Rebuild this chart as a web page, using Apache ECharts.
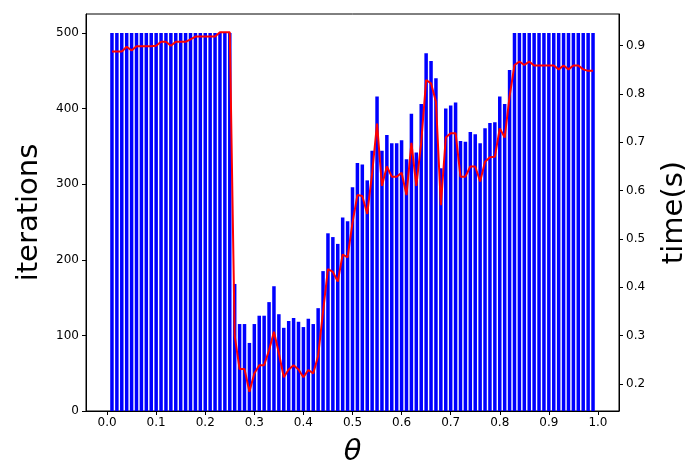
<!DOCTYPE html>
<html>
<head>
<meta charset="utf-8">
<script src="https://cdn.jsdelivr.net/npm/echarts@6/dist/echarts.min.js"></script>
<style>
html,body{margin:0;padding:0;background:#fff;}
#chart{width:685px;height:464px;}
</style>
</head>
<body>
<div id="chart"></div>
<script>
const theta = [0.01,0.02,0.03,0.04,0.05,0.06,0.07,0.08,0.09,0.10,
0.11,0.12,0.13,0.14,0.15,0.16,0.17,0.18,0.19,0.20,
0.21,0.22,0.23,0.24,0.25,0.26,0.27,0.28,0.29,0.30,
0.31,0.32,0.33,0.34,0.35,0.36,0.37,0.38,0.39,0.40,
0.41,0.42,0.43,0.44,0.45,0.46,0.47,0.48,0.49,0.50,
0.51,0.52,0.53,0.54,0.55,0.56,0.57,0.58,0.59,0.60,
0.61,0.62,0.63,0.64,0.65,0.66,0.67,0.68,0.69,0.70,
0.71,0.72,0.73,0.74,0.75,0.76,0.77,0.78,0.79,0.80,
0.81,0.82,0.83,0.84,0.85,0.86,0.87,0.88,0.89,0.90,
0.91,0.92,0.93,0.94,0.95,0.96,0.97,0.98,0.99];

const iterations = [500,500,500,500,500,500,500,500,500,500,
500,500,500,500,500,500,500,500,500,500,
500,500,500,500,500,168,115,115,90,115,
126,126,144,165,128,110,119,123,118,111,
122,115,136,185,235,230,221,256,251,296,
328,326,305,344,416,344,365,354,354,358,
333,393,342,406,473,463,440,321,400,404,
408,357,356,369,366,354,374,381,382,416,
406,451,500,500,500,500,500,500,500,500,
500,500,500,500,500,500,500,500,500];

const timeSec = [0.888,0.888,0.888,0.898,0.890,0.899,0.899,0.899,0.899,0.900,
0.908,0.908,0.900,0.908,0.908,0.908,0.913,0.919,0.919,0.919,
0.919,0.919,0.928,0.928,0.928,0.300,0.231,0.231,0.184,0.222,
0.239,0.239,0.270,0.308,0.264,0.214,0.230,0.239,0.230,0.214,
0.229,0.222,0.258,0.350,0.438,0.432,0.412,0.468,0.462,0.534,
0.591,0.589,0.552,0.636,0.739,0.610,0.650,0.629,0.629,0.637,
0.591,0.699,0.610,0.700,0.829,0.822,0.784,0.570,0.710,0.719,
0.719,0.629,0.629,0.650,0.650,0.619,0.660,0.669,0.670,0.729,
0.710,0.795,0.860,0.867,0.860,0.867,0.859,0.859,0.859,0.859,
0.859,0.851,0.859,0.851,0.859,0.859,0.851,0.848,0.848];

const xTicks = [0.0,0.1,0.2,0.3,0.4,0.5,0.6,0.7,0.8,0.9,1.0];
const leftTicks = [0,100,200,300,400,500];
const rightTicks = [0.2,0.3,0.4,0.5,0.6,0.7,0.8,0.9];

const FONT = 'DejaVu Sans';
const chart = echarts.init(document.getElementById('chart'), null, {renderer:'canvas'});

const tickStyle = {show:true, inside:false, length:4, lineStyle:{color:'#000', width:1}};
const labelBase = {color:'#000', fontFamily:FONT, fontSize:12};

chart.setOption({
  animation:false,
  backgroundColor:'#fff',
  grid:{left:86, right:66, top:14, bottom:53, containLabel:false, outerBoundsMode:'none',
        show:true, borderColor:'#000', borderWidth:1, backgroundColor:'transparent'},
  xAxis:{
    type:'value', min:-0.0429, max:1.0429,
    name:'θ', nameLocation:'middle', nameGap:27,
    nameTextStyle:{fontFamily:FONT, fontStyle:'italic', fontSize:29, color:'#000'},
    axisLine:{show:true, onZero:false, lineStyle:{color:'#000', width:1}},
    axisTick:Object.assign({customValues:xTicks}, tickStyle),
    axisLabel:Object.assign({customValues:xTicks, margin:6, formatter:v=>v.toFixed(1)}, labelBase),
    splitLine:{show:false}
  },
  yAxis:[
    {
      type:'value', min:0, max:525, position:'left',
      name:'iterations', nameLocation:'middle', nameGap:42,
      nameTextStyle:{fontFamily:FONT, fontSize:29, color:'#000'},
      axisLine:{show:true, onZero:false, lineStyle:{color:'#000', width:1}},
      axisTick:Object.assign({customValues:leftTicks}, tickStyle),
      axisLabel:Object.assign({customValues:leftTicks, margin:7}, labelBase),
      splitLine:{show:false}
    },
    {
      type:'value', min:0.1442, max:0.9656, position:'right',
      name:'time(s)', nameLocation:'middle', nameGap:41,
      nameTextStyle:{fontFamily:FONT, fontSize:29, color:'#000'},
      axisLine:{show:true, onZero:false, lineStyle:{color:'#000', width:1}},
      axisTick:Object.assign({customValues:rightTicks}, tickStyle),
      axisLabel:Object.assign({customValues:rightTicks, margin:7, formatter:v=>v.toFixed(1)}, labelBase),
      splitLine:{show:false}
    }
  ],
  series:[
    {
      type:'bar', yAxisIndex:0, barWidth:3.5,
      itemStyle:{color:'#0000ff'},
      data:theta.map((t,i)=>[t, iterations[i]])
    },
    {
      type:'line', yAxisIndex:1, symbol:'none',
      lineStyle:{color:'#ff0000', width:2},
      data:theta.map((t,i)=>[t, timeSec[i]]),
      z:5
    }
  ]
});
</script>
</body>
</html>
